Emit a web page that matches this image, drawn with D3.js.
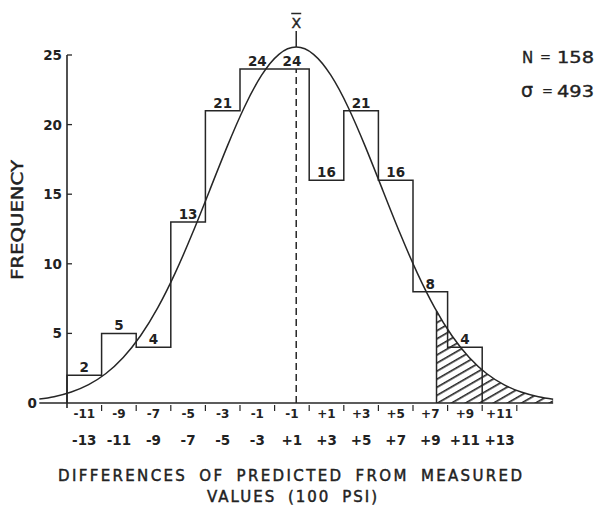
<!DOCTYPE html>
<html>
<head>
<meta charset="utf-8">
<script src="https://cdn.jsdelivr.net/npm/d3@7"></script>
<style>
  html, body { margin: 0; padding: 0; background: #fff; }
  svg { display: block; }
  text { font-family: "DejaVu Sans", "Liberation Sans", Arial, sans-serif; fill: #222; }
</style>
</head>
<body>
<svg id="chart" width="599" height="508"></svg>
<script>
// ---- data ----
const binEdges = [-13, -11, -9, -7, -5, -3, -1, 1, 3, 5, 7, 9, 11];
const frequencies = [2, 5, 4, 13, 21, 24, 24, 16, 21, 16, 8, 4];
const labelCenters = [-12, -10, -8, -6, -4, -2, 0, 2, 4, 6, 8, 10, 12];
const upperTickLabels = ["-11", "-9", "-7", "-5", "-3", "-1", "-1", "+1", "+3", "+5", "+7", "+9", "+11"];
const lowerTickLabels = ["-13", "-11", "-9", "-7", "-5", "-3", "+1", "+3", "+5", "+7", "+9", "+11", "+13"];
const tickEdges = [-11, -9, -7, -5, -3, -1, 1, 3, 5, 7, 9, 11, 13];
const yTicks = [0, 5, 10, 15, 20, 25];
// fitted normal curve
const curveX = [-14.6, -13.75, -12.75, -11.75, -10.75, -9.75, -8.75, -7.75, -6.75, -5.75, -4.75, -3.75, -2.75, -1.75, -0.75, 0.25,
                1.25, 2.25, 3.25, 4.25, 5.25, 6.25, 7.25, 8.25, 9.25, 10.25, 11.25, 12.25, 13.25, 14.25, 15.1];
const curveY = [0.28, 0.45, 0.79, 1.32, 2.12, 3.27, 4.83, 6.85, 9.33, 12.19, 15.29, 18.40, 21.25, 23.55, 25.05, 25.57,
                25.05, 23.55, 21.25, 18.40, 15.29, 12.19, 9.33, 6.85, 4.83, 3.27, 2.12, 1.32, 0.79, 0.45, 0.27];
const meanX = 0.25;
const tailStart = 8.36;
const nLabel = "158";
const sigmaLabel = "493";

// ---- scales ----
const svg = d3.select("#chart");
const x = d3.scaleLinear().domain([-13, 11]).range([67, 482.2]);
const y = d3.scaleLinear().domain([0, 25]).range([403, 55]);
const ink = "#262626";

// hatch pattern
const defs = svg.append("defs");
const pat = defs.append("pattern")
  .attr("id", "hatch").attr("patternUnits", "userSpaceOnUse")
  .attr("width", 7).attr("height", 7)
  .attr("patternTransform", "rotate(-30)");
pat.append("line").attr("x1", 0).attr("y1", 0.8).attr("x2", 7).attr("y2", 0.8)
  .attr("stroke", ink).attr("stroke-width", 1.7);
defs.append("clipPath").attr("id", "tailClip")
  .append("rect")
  .attr("x", x(tailStart)).attr("y", 0)
  .attr("width", 599 - x(tailStart)).attr("height", y(0));

const pts = curveX.map((d, i) => [d, curveY[i]]);

// hatched tail area
svg.append("path")
  .datum(pts)
  .attr("clip-path", "url(#tailClip)")
  .attr("fill", "url(#hatch)")
  .attr("d", d3.area().x(d => x(d[0])).y0(y(0)).y1(d => y(d[1])).curve(d3.curveNatural));
svg.append("line")
  .attr("x1", x(tailStart)).attr("x2", x(tailStart))
  .attr("y1", y(0)).attr("y2", y(6.6))
  .attr("stroke", ink).attr("stroke-width", 1.5);

// histogram step outline
let d = `M${x(binEdges[0])},${y(0)}`;
frequencies.forEach((f, i) => {
  d += `V${y(f)}H${x(binEdges[i] + 2)}`;
});
d += `V${y(0)}`;
svg.append("path").attr("d", d).attr("fill", "none")
  .attr("stroke", ink).attr("stroke-width", 1.5);

// bar labels
svg.append("g").selectAll("text").data(frequencies).join("text")
  .attr("x", (f, i) => x(binEdges[i] + 1))
  .attr("y", f => y(f) - 3)
  .attr("text-anchor", "middle")
  .attr("font-size", 13.5).attr("font-weight", "bold")
  .text(f => f);

// normal curve
svg.append("path")
  .datum(pts)
  .attr("fill", "none").attr("stroke", ink).attr("stroke-width", 1.5)
  .attr("d", d3.line().x(d => x(d[0])).y(d => y(d[1])).curve(d3.curveNatural));

// mean line
svg.append("line")
  .attr("x1", x(meanX)).attr("x2", x(meanX))
  .attr("y1", y(0)).attr("y2", y(24))
  .attr("stroke", ink).attr("stroke-width", 1.5).attr("stroke-dasharray", "7,4");
svg.append("line")
  .attr("x1", x(meanX)).attr("x2", x(meanX))
  .attr("y1", 31).attr("y2", y(25.57))
  .attr("stroke", ink).attr("stroke-width", 1.5);
svg.append("text").attr("x", x(meanX)).attr("y", 28)
  .attr("text-anchor", "middle").attr("font-size", 14)
  .attr("stroke", "#222").attr("stroke-width", 0.4).text("X");
svg.append("line")
  .attr("x1", x(meanX) - 5).attr("x2", x(meanX) + 5)
  .attr("y1", 13.5).attr("y2", 13.5)
  .attr("stroke", ink).attr("stroke-width", 1.5);

// y axis
const yAxis = svg.append("g");
yAxis.append("line").attr("x1", x(-13)).attr("x2", x(-13))
  .attr("y1", y(25)).attr("y2", y(0) + 5)
  .attr("stroke", ink).attr("stroke-width", 1.6);
yAxis.selectAll("line.tk").data(yTicks.filter(t => t > 0)).join("line")
  .attr("class", "tk")
  .attr("x1", x(-13)).attr("x2", x(-13) + 5)
  .attr("y1", t => y(t)).attr("y2", t => y(t))
  .attr("stroke", ink).attr("stroke-width", 1.3);
yAxis.selectAll("text").data(yTicks).join("text")
  .attr("x", t => t === 0 ? 37 : 62)
  .attr("y", t => y(t) + 5)
  .attr("text-anchor", "end")
  .attr("font-size", 13.5).attr("font-weight", "bold")
  .text(t => t);
svg.append("text")
  .attr("transform", `translate(23,${220}) rotate(-90)`)
  .attr("text-anchor", "middle")
  .attr("font-size", 15)
  .attr("stroke", "#222").attr("stroke-width", 0.45)
  .attr("textLength", 120).attr("lengthAdjust", "spacingAndGlyphs")
  .text("FREQUENCY");

// x axis baseline
svg.append("line")
  .attr("x1", x(curveX[0])).attr("x2", x(curveX[curveX.length - 1]))
  .attr("y1", y(0)).attr("y2", y(0))
  .attr("stroke", ink).attr("stroke-width", 1.6);
svg.append("g").selectAll("line").data(tickEdges).join("line")
  .attr("x1", t => x(t)).attr("x2", t => x(t))
  .attr("y1", y(0) + 2).attr("y2", y(0) + 8)
  .attr("stroke", ink).attr("stroke-width", 1.2);
svg.append("g").selectAll("text").data(upperTickLabels).join("text")
  .attr("x", (t, i) => x(labelCenters[i]))
  .attr("y", 418)
  .attr("text-anchor", "middle").attr("font-size", 12).attr("font-weight", "bold")
  .text(t => t);
svg.append("g").selectAll("text").data(lowerTickLabels).join("text")
  .attr("x", (t, i) => x(labelCenters[i]))
  .attr("y", 445)
  .attr("text-anchor", "middle").attr("font-size", 13.5).attr("font-weight", "bold")
  .text(t => t);

// x title
svg.append("text").attr("x", 290).attr("y", 481)
  .attr("text-anchor", "middle").attr("font-size", 15)
  .attr("stroke", "#222").attr("stroke-width", 0.45)
  .attr("word-spacing", 5)
  .attr("textLength", 464).attr("lengthAdjust", "spacing")
  .text("DIFFERENCES OF PREDICTED FROM MEASURED");
svg.append("text").attr("x", 292).attr("y", 502)
  .attr("text-anchor", "middle").attr("font-size", 15)
  .attr("stroke", "#222").attr("stroke-width", 0.45)
  .attr("word-spacing", 5)
  .attr("textLength", 170).attr("lengthAdjust", "spacing")
  .text("VALUES (100 PSI)");

// annotations
const ann = svg.append("g").attr("font-size", 15).attr("stroke", "#222").attr("stroke-width", 0.35);
ann.append("text").attr("x", 522).attr("y", 63).text("N");
ann.append("text").attr("x", 540).attr("y", 61).attr("font-size", 13).text("=");
ann.append("text").attr("x", 557).attr("y", 63).attr("textLength", 37).attr("lengthAdjust", "spacingAndGlyphs").text(nLabel);
ann.append("text").attr("x", 521).attr("y", 97).attr("font-size", 19).text("σ");
ann.append("text").attr("x", 542).attr("y", 95).attr("font-size", 13).text("=");
ann.append("text").attr("x", 557).attr("y", 97).attr("textLength", 37).attr("lengthAdjust", "spacingAndGlyphs").text(sigmaLabel);
</script>
</body>
</html>
